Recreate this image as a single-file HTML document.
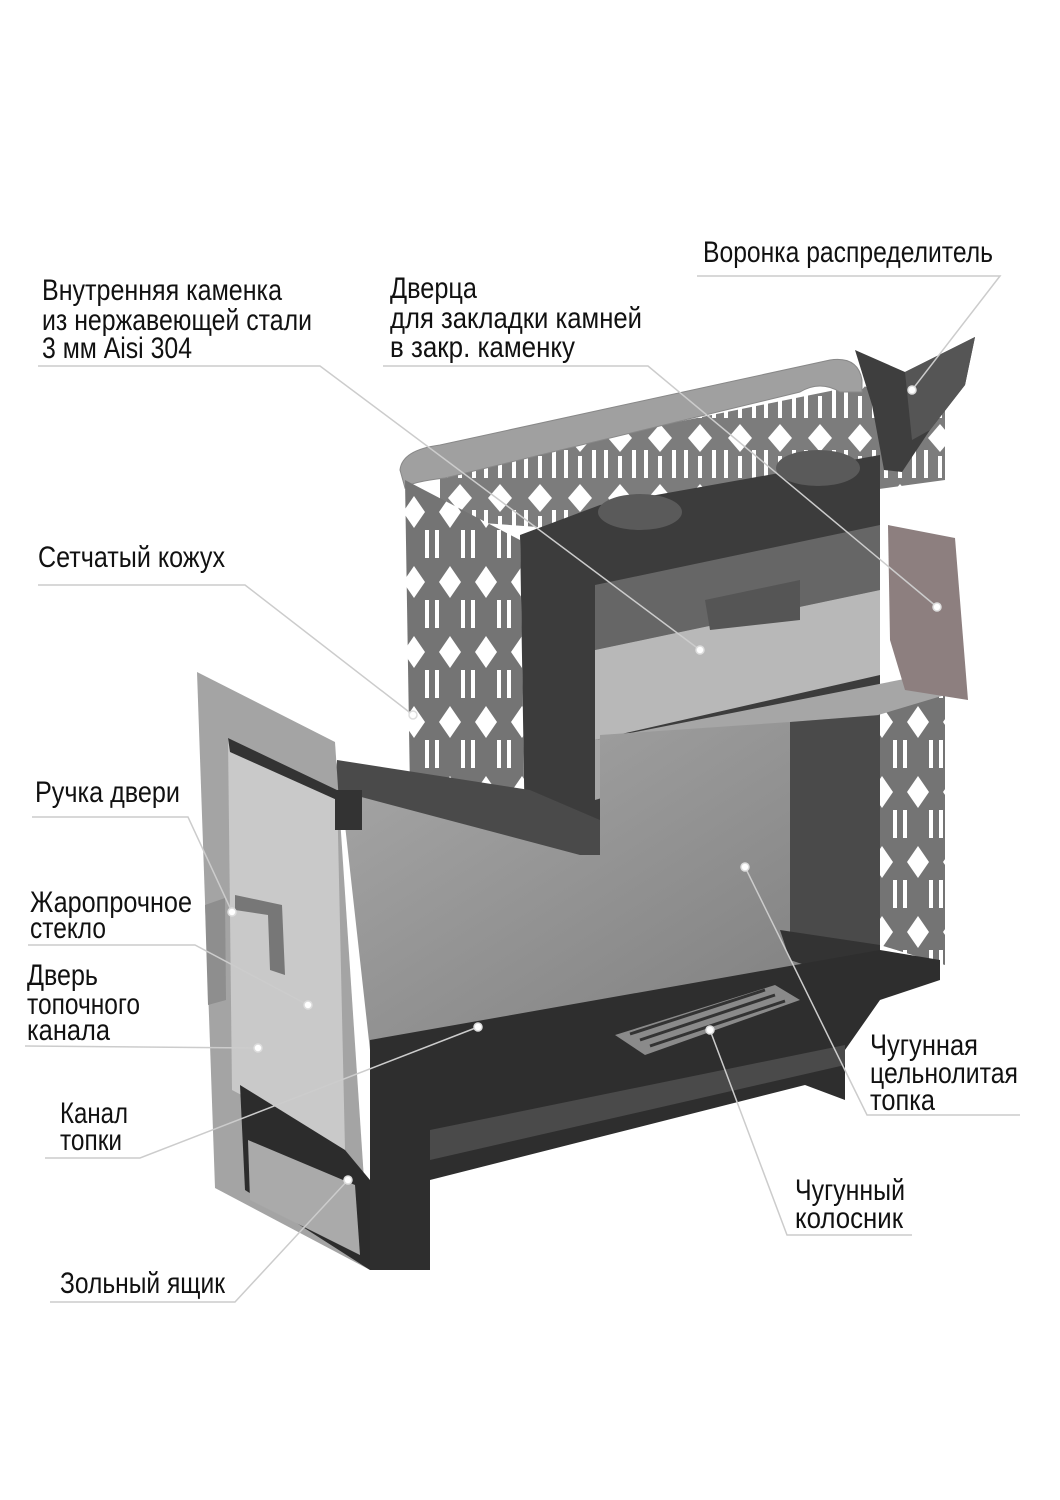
<!DOCTYPE html>
<html><head><meta charset="utf-8"><style>
html,body{margin:0;padding:0;background:#fff;}
svg{display:block}
text{font-family:"Liberation Sans Narrow","Liberation Sans",sans-serif;font-size:30px;fill:#111;}
</style></head><body>
<svg width="1060" height="1500" viewBox="0 0 1060 1500" xmlns="http://www.w3.org/2000/svg">
<defs>
<pattern id="mesh" width="40" height="60" patternUnits="userSpaceOnUse">
<rect width="40" height="60" fill="#7c7c7c"/>
<path d="M20 4 L32 18 L20 32 L8 18Z" fill="#fff"/>
<path d="M6 30 L6 58 M34 30 L34 58 M20 36 L20 58" stroke="#fff" stroke-width="4"/>
</pattern>
<pattern id="meshv" width="36" height="70" patternUnits="userSpaceOnUse">
<rect width="36" height="70" fill="#747474"/>
<path d="M18 6 L29 22 L18 38 L7 22Z" fill="#fff"/>
<path d="M5 40 L5 68 M31 40 L31 68" stroke="#fff" stroke-width="4"/>
</pattern>
<linearGradient id="body" x1="0" y1="0" x2="1" y2="1">
<stop offset="0" stop-color="#a8a8a8"/><stop offset="1" stop-color="#7c7c7c"/></linearGradient>
</defs>

<!-- back mesh panel -->
<polygon points="440,470 860,385 945,410 945,480 580,530 440,520" fill="url(#mesh)"/>
<!-- top rim -->
<path d="M400,470 Q402,450 440,445 L830,360 Q858,356 862,380 L862,392 L840,392 Q820,380 800,392 L445,478 Q410,482 405,488 Z" fill="#a0a0a0" stroke="#888" stroke-width="1"/>
<!-- left mesh panel -->
<polygon points="405,480 520,540 525,845 410,790" fill="url(#meshv)"/>
<!-- right mesh panel -->
<polygon points="880,700 945,690 945,965 880,945" fill="url(#meshv)"/>
<!-- inner chamber dark -->
<polygon points="520,535 600,505 880,455 880,720 600,800 600,855 580,855 525,840" fill="#3c3c3c"/>
<ellipse cx="640" cy="512" rx="42" ry="18" fill="#5a5a5a"/>
<ellipse cx="818" cy="468" rx="42" ry="18" fill="#5a5a5a"/>
<polygon points="595,585 880,525 880,590 595,650" fill="#666"/>
<polygon points="595,650 880,590 880,675 595,740" fill="#b8b8b8"/>
<polygon points="705,600 800,580 800,620 710,630" fill="#555"/>
<polygon points="595,740 950,670 955,692 595,800" fill="#a6a6a6"/>
<!-- pink door -->
<polygon points="888,525 955,538 968,700 905,690 890,640" fill="#8d7f7f"/>
<!-- funnel -->
<polygon points="855,350 905,372 975,337 965,385 930,430 902,472 884,470 872,405" fill="#3e3e3e"/>
<polygon points="905,372 975,337 965,385 930,430 912,440" fill="#555"/>
<!-- main body -->
<polygon points="340,780 600,855 600,735 790,722 880,715 880,950 520,1025 370,1050" fill="url(#body)"/>
<polygon points="790,722 880,715 880,955 790,960" fill="#4a4a4a"/>
<polygon points="780,930 880,945 880,990 790,960" fill="#333"/>
<!-- slanted roof -->
<polygon points="337,760 530,790 600,820 600,855 580,855 335,790" fill="#4a4a4a"/>
<!-- dark base -->
<polygon points="370,1040 880,950 940,960 940,980 880,1000 845,1050 845,1100 805,1085 430,1180 430,1270 370,1270" fill="#2e2e2e"/>
<polygon points="430,1130 845,1045 845,1065 430,1160" fill="#4a4a4a"/>
<!-- grate -->
<polygon points="615,1035 775,985 800,1000 645,1055" fill="#8a8a8a"/>
<path d="M640,1040 L775,995 M650,1046 L785,1001 M630,1034 L765,990" stroke="#333" stroke-width="3"/>
<!-- door panel -->
<polygon points="197,672 335,742 370,1270 215,1188" fill="#a4a4a4"/>
<polygon points="228,738 337,790 345,1150 232,1090" fill="#c9c9c9"/>
<polygon points="228,738 337,790 337,800 230,752" fill="#333"/>
<polygon points="240,1085 345,1150 370,1180 370,1270 245,1190" fill="#2c2c2c"/>
<polygon points="248,1140 355,1185 360,1255 250,1200" fill="#aaa"/>
<polygon points="205,905 225,898 226,1000 208,1005" fill="#8e8e8e"/>
<polygon points="235,895 282,905 285,975 270,970 268,915 235,910" fill="#777"/>
<polygon points="335,790 362,790 362,830 335,830" fill="#333"/>

<!-- leaders -->
<g stroke="#ccc" stroke-width="1.5" fill="none">
<polyline points="697,276 1000,276 912,390"/>
<polyline points="38,366 320,366 700,650"/>
<polyline points="383,366 648,366 937,607"/>
<polyline points="38,585 245,585 413,715"/>
<polyline points="32,817 188,817 232,912"/>
<polyline points="28,945 195,945 308,1005"/>
<polyline points="25,1046 258,1048"/>
<polyline points="45,1158 140,1158 478,1027"/>
<polyline points="50,1302 235,1302 348,1180"/>
<polyline points="1020,1115 867,1115 745,867"/>
<polyline points="912,1235 787,1235 710,1030"/>
</g>
<g fill="#fff" stroke="#ddd" stroke-width="1.5">
<circle cx="912" cy="390" r="4"/><circle cx="700" cy="650" r="4"/><circle cx="937" cy="607" r="4"/>
<circle cx="413" cy="715" r="4"/><circle cx="232" cy="912" r="4"/><circle cx="308" cy="1005" r="4"/>
<circle cx="258" cy="1048" r="4"/><circle cx="478" cy="1027" r="4"/><circle cx="348" cy="1180" r="4"/>
<circle cx="745" cy="867" r="4"/><circle cx="710" cy="1030" r="4"/>
</g>

<!-- labels -->
<text x="703" y="262" textLength="290" lengthAdjust="spacingAndGlyphs">Воронка распределитель</text>
<text x="42" y="300" textLength="240" lengthAdjust="spacingAndGlyphs">Внутренняя каменка</text>
<text x="42" y="330" textLength="270" lengthAdjust="spacingAndGlyphs">из нержавеющей стали</text>
<text x="42" y="358" textLength="150" lengthAdjust="spacingAndGlyphs">3 мм Aisi 304</text>
<text x="390" y="298" textLength="87" lengthAdjust="spacingAndGlyphs">Дверца</text>
<text x="390" y="328" textLength="252" lengthAdjust="spacingAndGlyphs">для закладки камней</text>
<text x="390" y="357" textLength="185" lengthAdjust="spacingAndGlyphs">в закр. каменку</text>
<text x="38" y="567" textLength="187" lengthAdjust="spacingAndGlyphs">Сетчатый кожух</text>
<text x="35" y="802" textLength="145" lengthAdjust="spacingAndGlyphs">Ручка двери</text>
<text x="30" y="912" textLength="162" lengthAdjust="spacingAndGlyphs">Жаропрочное</text>
<text x="30" y="938" textLength="76" lengthAdjust="spacingAndGlyphs">стекло</text>
<text x="27" y="985" textLength="71" lengthAdjust="spacingAndGlyphs">Дверь</text>
<text x="27" y="1014" textLength="113" lengthAdjust="spacingAndGlyphs">топочного</text>
<text x="27" y="1040" textLength="83" lengthAdjust="spacingAndGlyphs">канала</text>
<text x="60" y="1123" textLength="68" lengthAdjust="spacingAndGlyphs">Канал</text>
<text x="60" y="1150" textLength="62" lengthAdjust="spacingAndGlyphs">топки</text>
<text x="60" y="1293" textLength="165" lengthAdjust="spacingAndGlyphs">Зольный ящик</text>
<text x="870" y="1055" textLength="108" lengthAdjust="spacingAndGlyphs">Чугунная</text>
<text x="870" y="1083" textLength="148" lengthAdjust="spacingAndGlyphs">цельнолитая</text>
<text x="870" y="1110" textLength="65" lengthAdjust="spacingAndGlyphs">топка</text>
<text x="795" y="1200" textLength="110" lengthAdjust="spacingAndGlyphs">Чугунный</text>
<text x="795" y="1228" textLength="108" lengthAdjust="spacingAndGlyphs">колосник</text>
</svg>
</body></html>
